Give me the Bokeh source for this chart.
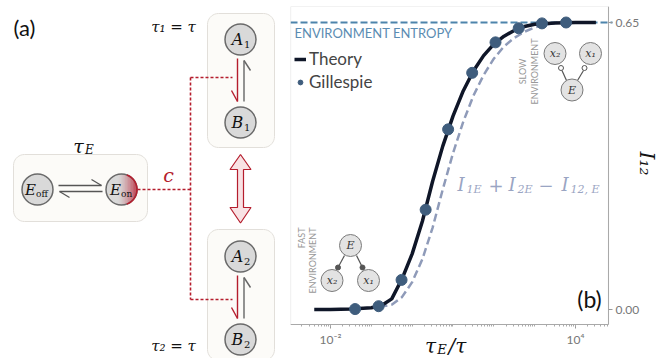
import json
import numpy as np
from bokeh.plotting import figure
from bokeh.models import (Range1d, Legend, LegendItem, FixedTicker, BoxAnnotation,
                          CustomJSTickFormatter, PrintfTickFormatter)
from bokeh.layouts import row
from bokeh.core.properties import value
from bokeh.embed import file_html
from bokeh.resources import INLINE

# ---------------- data ----------------
theory_tau = [0.004, 0.01, 0.0316, 0.1, 0.178, 0.316, 0.562, 1.0, 1.78, 3.16, 5.62, 10,
              17.8, 31.6, 56.2, 100, 178, 316, 562, 1000, 3162, 10000, 31623]
theory_I12 = [0.000, 0.000, 0.001, 0.004, 0.009, 0.024, 0.069, 0.126, 0.200, 0.290, 0.370, 0.438,
              0.495, 0.540, 0.575, 0.601, 0.619, 0.632, 0.641, 0.646, 0.649, 0.650, 0.650]
bound_tau = [0.158, 0.316, 0.562, 1.0, 1.78, 3.16, 5.62, 10, 17.8, 31.6, 56.2, 100, 178,
             316, 562, 1000, 1778, 3162]
bound_I = [0.006, 0.011, 0.028, 0.062, 0.114, 0.185, 0.272, 0.354, 0.425, 0.484, 0.531, 0.568,
           0.596, 0.615, 0.629, 0.639, 0.645, 0.649]
gill_tau = [0.040, 0.151, 0.55, 2.14, 7.6, 29.5, 110, 407, 1510, 5890]
gill_I12 = [0.001, 0.0075, 0.067, 0.226, 0.408, 0.536, 0.605, 0.637, 0.648, 0.650]
env_entropy = 0.65
x_tick_values = [0.01, 10000]
x_tick_labels = ["10\u207b\u00b2", "10\u2074"]
y_tick_values = [0.0, 0.65]

SERIF = value("DejaVu Serif")
SANS = value("Lato")
RED = "#b51d2d"
TOTAL_W, H = 665, 358

# ---------------- left: diagram (a) ----------------
WL = 278
d = figure(frame_width=WL, frame_height=H, x_range=Range1d(0, WL), y_range=Range1d(H, 0),
           x_axis_type=None, y_axis_type=None, toolbar_location=None,
           output_backend="svg", min_border=0, min_border_left=0, min_border_right=0,
           min_border_top=0, min_border_bottom=0)
d.outline_line_color = None
d.background_fill_color = "white"


def rrect(x0, y0, x1, y1, r, n=10):
    xs, ys = [], []
    corners = [(x1 - r, y0 + r, -90, 0), (x1 - r, y1 - r, 0, 90),
               (x0 + r, y1 - r, 90, 180), (x0 + r, y0 + r, 180, 270)]
    for cx, cy, a0, a1 in corners:
        for t in np.linspace(a0, a1, n):
            xs.append(cx + r * np.cos(np.radians(t)))
            ys.append(cy + r * np.sin(np.radians(t)))
    return xs, ys


for b in [(13, 148, 147, 215), (207, 7, 274, 141), (207, 223, 274, 354)]:
    xs, ys = rrect(*b, 11)
    d.patch(xs, ys, fill_color="#fcfbf8", line_color="#e2dfda", line_width=1)

R = 15.5
nodes = {"A": [(240, 33, "1"), (240, 250, "2")], "B": [(240, 116, "1"), (240, 333, "2")]}
circ_x = [240, 240, 240, 240, 37, 121]
circ_y = [33, 116, 250, 333, 183, 183]
d.circle(x=circ_x, y=circ_y, radius=R, fill_color="#d9d9d9", line_color=None)

cx, cy = 121, 183


def mix(c1, c2, t):
    a = [int(c1[i:i + 2], 16) for i in (1, 3, 5)]
    b = [int(c2[i:i + 2], 16) for i in (1, 3, 5)]
    return "#%02x%02x%02x" % tuple(int(round(a[k] + (b[k] - a[k]) * t)) for k in range(3))


n = 26
xs0 = cx - 0.25 * R
for i in range(n):
    xa = xs0 + (cx + R - xs0) * i / n
    xb = xs0 + (cx + R - xs0) * (i + 1) / n
    ha = np.sqrt(max(R * R - (xa - cx) ** 2, 0))
    hb = np.sqrt(max(R * R - (xb - cx) ** 2, 0))
    t = ((i + 0.5) / n) ** 1.4
    d.patch([xa, xb, xb, xa], [cy - ha, cy - hb, cy + hb, cy + ha],
            fill_color=mix("#d9d9d9", "#b8192c", t), line_color=None)

d.circle(x=circ_x, y=circ_y, radius=R, fill_color=None, line_color="#6a6a6a", line_width=1.5)
ang = np.radians(np.linspace(-70, 70, 30))
d.line(cx + R * np.cos(ang), cy + R * np.sin(ang), line_color=RED, line_width=1.6)

for o in (0, 217):
    d.line([237, 237], [52 + o, 95 + o], line_color=RED, line_width=1.4)
    d.line([231, 237], [84 + o, 95 + o], line_color=RED, line_width=1.4)
    d.line([243.5, 243.5], [95 + o, 54 + o], line_color="#666666", line_width=1.4)
    d.line([243.5, 250], [54 + o, 64 + o], line_color="#666666", line_width=1.4)

d.line([58, 101], [179, 179], line_color="#555555", line_width=1.3)
d.line([101, 91], [179, 173], line_color="#555555", line_width=1.3)
d.line([59, 102], [185, 185], line_color="#555555", line_width=1.3)
d.line([59, 69], [185, 191], line_color="#555555", line_width=1.3)

d.multi_line([[137, 190], [190, 190], [190, 232], [190, 232]],
             [[183, 183], [71, 293], [71, 71], [293, 293]],
             line_color=RED, line_dash="3 2", line_width=1.6)

dx = [240, 250.5, 243, 243, 250.5, 240, 229.5, 237, 237, 229.5]
dy = [148, 163, 163, 201, 201, 216.5, 201, 201, 163, 163]
d.patch(dx, dy, fill_color="#f8e2e4", line_color=RED, line_width=1.2)

d.text(x=[24], y=[21], text=["(a)"], text_font=SANS, text_font_size="22px",
       text_align="center", text_baseline="middle", text_color="#111111")
d.text(x=[173, 173], y=[20, 339], text=["\u03c4\u2081 = \u03c4", "\u03c4\u2082 = \u03c4"],
       text_font=SERIF, text_font_style="italic", text_font_size="15px",
       text_align="center", text_baseline="middle", text_color="#111111")
d.text(x=[78], y=[139], text=["\u03c4"], text_font=SERIF, text_font_style="italic",
       text_font_size="19px", text_align="center", text_baseline="middle", text_color="#111111")
d.text(x=[89], y=[143], text=["E"], text_font=SERIF, text_font_style="italic",
       text_font_size="12px", text_align="center", text_baseline="middle", text_color="#111111")
d.text(x=[168], y=[168], text=["c"], text_font=SERIF, text_font_style="italic",
       text_font_size="19px", text_align="center", text_baseline="middle", text_color=RED)

main_x, main_y, main_t, sub_x, sub_y, sub_t = [], [], [], [], [], []
for letter, lst in nodes.items():
    for (x, y, s) in lst:
        main_x.append(x - 3); main_y.append(y); main_t.append(letter)
        sub_x.append(x + 3.5); sub_y.append(y + 4.5); sub_t.append(s)
d.text(x=main_x, y=main_y, text=main_t, text_font=SERIF, text_font_style="italic",
       text_font_size="16px", text_align="center", text_baseline="middle", text_color="#111111")
d.text(x=sub_x, y=sub_y, text=sub_t, text_font=SERIF, text_font_size="10px",
       text_align="left", text_baseline="middle", text_color="#111111")
d.text(x=[30, 115], y=[183, 183], text=["E", "E"], text_font=SERIF, text_font_style="italic",
       text_font_size="15px", text_align="center", text_baseline="middle", text_color="#111111")
d.text(x=[35.5, 120.5], y=[187, 187], text=["off", "on"], text_font=SERIF, text_font_size="9px",
       text_align="left", text_baseline="middle", text_color="#111111")

# ---------------- right: plot (b) ----------------
FL, FR, FT, FB = 290, 608, 6, 324       # plot box (canvas px)


def xv(px):
    return 10 ** (-2 + (px - 330) / 40.83)


def yv(py):
    return 0.65 * (309 - py) / 287


def P(px, py):
    return xv(px), yv(py)


p = figure(frame_width=TOTAL_W - FL, frame_height=H - FT, x_axis_type="log",
           x_range=Range1d(xv(FL), xv(TOTAL_W)), y_range=Range1d(yv(H), yv(FT)),
           y_axis_location="right", toolbar_location=None, output_backend="svg",
           min_border_left=FL - WL, min_border_right=0, min_border_top=FT,
           min_border_bottom=0)
p.grid.visible = False
p.outline_line_color = None
p.background_fill_color = "white"
p.add_layout(BoxAnnotation(left=xv(FL), right=xv(FR), top=yv(FT), bottom=yv(FB),
                           fill_alpha=0, line_color="#aaaaaa", line_width=1.2))

minor = [k * 10.0 ** e for e in range(-3, 5) for k in range(1, 10) if xv(FL) < k * 10.0 ** e < xv(FR)]
p.xaxis.ticker = FixedTicker(ticks=x_tick_values, minor_ticks=minor)
p.xaxis.formatter = CustomJSTickFormatter(code="""
const t = %s; const l = %s;
for (let i = 0; i < t.length; i++) { if (Math.abs(Math.log10(tick) - Math.log10(t[i])) < 1e-6) return l[i]; }
return '';""" % (json.dumps(x_tick_values), json.dumps(x_tick_labels)))
p.xaxis.fixed_location = yv(FB)
p.xaxis.bounds = (xv(FL), xv(FR))
p.yaxis.ticker = FixedTicker(ticks=y_tick_values)
p.yaxis.formatter = PrintfTickFormatter(format="%.2f")
p.yaxis.fixed_location = xv(FR)
p.yaxis.bounds = (yv(FB), yv(FT))
for ax in (p.xaxis, p.yaxis):
    ax.axis_line_color = "#aaaaaa"
    ax.major_tick_line_color = "#999999"
    ax.minor_tick_line_color = "#aaaaaa"
    ax.major_tick_in = 0
    ax.major_tick_out = 4
    ax.minor_tick_in = 0
    ax.minor_tick_out = 2
    ax.major_label_text_font = "Lato"
    ax.major_label_text_font_size = "12px"
    ax.major_label_text_color = "#777777"
p.yaxis.major_label_standoff = 3
p.xaxis.major_label_standoff = 3

# environment entropy reference line (extends to the tick label)
p.segment(x0=[xv(FL)], y0=[env_entropy], x1=[xv(612)], y1=[env_entropy],
          line_color="#4d84ab", line_dash="7 3", line_width=2)

r_bound = p.line(bound_tau, bound_I, line_color="#8f9bb9", line_width=2.5, line_dash="8 4")
r_theory = p.line(theory_tau, theory_I12, line_color="#0f1628", line_width=3.5)
r_gill = p.scatter(gill_tau, gill_I12, size=11, fill_color="#3f5d7d", line_color="#3f5d7d")

legend = Legend(items=[LegendItem(label="Theory", renderers=[r_theory]),
                       LegendItem(label="Gillespie", renderers=[r_gill])],
                location=(4, H - 92), border_line_color=None, background_fill_alpha=0,
                label_text_font="Lato", label_text_font_size="17px", glyph_width=12,
                glyph_height=20, label_height=20, label_standoff=3, spacing=2,
                padding=4, margin=0)
p.add_layout(legend)

ex, ey = P(294, 32)
p.text(x=[ex], y=[ey], text=["ENVIRONMENT ENTROPY"], text_font=SANS, text_font_size="13px",
       text_color="#5b8cb2", text_align="left", text_baseline="middle")

bx, by = P(589, 298)
p.text(x=[bx], y=[by], text=["(b)"], text_font=SANS, text_font_size="23px",
       text_color="#111111", text_align="center", text_baseline="middle")

seg_main = [("I", 457), ("+", 488), ("I", 508), ("\u2212", 538), ("I", 561)]
seg_sub = [("1E", 466), ("2E", 517), ("12, E", 570)]
for t, px in seg_main:
    x, y = P(px, 184)
    p.text(x=[x], y=[y], text=[t], text_font=SERIF,
           text_font_style="italic" if t == "I" else "normal", text_font_size="18px",
           text_color="#9aa5c3", text_align="left", text_baseline="middle")
for t, px in seg_sub:
    x, y = P(px, 189)
    p.text(x=[x], y=[y], text=[t], text_font=SERIF, text_font_style="italic",
           text_font_size="11px", text_color="#9aa5c3", text_align="left",
           text_baseline="middle")

for t, px, py, al in [("FAST", 301, 227, "right"), ("ENVIRONMENT", 312, 227, "right"),
                      ("SLOW", 522, 71, "center"), ("ENVIRONMENT", 534, 71, "center")]:
    x, y = P(px, py)
    p.text(x=[x], y=[y], text=[t], text_font=SANS, text_font_size="9px", text_color="#999999",
           text_align=al, text_baseline="middle", angle=np.pi / 2)


def nodes_at(pts):
    return [P(a, b)[0] for a, b in pts], [P(a, b)[1] for a, b in pts]


fast = [(350, 245), (331.5, 280), (368, 280)]
slow = [(571.5, 89.5), (554.5, 53), (590, 53)]
for grp, dots, segs, filled in [
        (fast, [(337.5, 267), (362, 267)], [((344, 255), (337.5, 267)), ((356, 255), (362, 267))], True),
        (slow, [(560.5, 67.5), (584, 67.5)], [((566, 80), (561.5, 70)), ((577, 80), (583, 70))], False)]:
    for (a, b) in segs:
        x0, y0 = P(*a); x1, y1 = P(*b)
        p.segment(x0=[x0], y0=[y0], x1=[x1], y1=[y1], line_color="#555555", line_width=1.2)
    xs, ys = nodes_at(grp)
    p.scatter(xs, ys, size=22, fill_color="#e3e3e3", line_color="#7a7a7a", line_width=1)
    xs, ys = nodes_at(dots)
    p.scatter(xs, ys, size=5, fill_color="#555555" if filled else "white",
              line_color="#555555", line_width=1)
    xs, ys = nodes_at(grp)
    p.text(x=xs, y=ys, text=["E", "x\u2082", "x\u2081"], text_font=SERIF,
           text_font_style="italic", text_font_size="11px", text_color="#333333",
           text_align="center", text_baseline="middle")

# x axis title (tau_E / tau) and y axis title (I_12)
for t, px, py, size, al in [("\u03c4", 430, 345, "20px", "center"), ("E", 441.5, 349, "13px", "center"),
                            ("/\u03c4", 448, 345, "20px", "left")]:
    x, y = P(px, py)
    p.text(x=[x], y=[y], text=[t], text_font=SERIF, text_font_style="italic",
           text_font_size=size, text_align=al, text_baseline="middle", text_color="#111111")
x, y = P(646, 163)
p.text(x=[x], y=[y], text=["I\u2081\u2082"], text_font=SERIF, text_font_style="italic",
       text_font_size="20px", text_align="center", text_baseline="middle", text_color="#111111",
       angle=-np.pi / 2)

layout = row(d, p)
open("out.html", "w").write(file_html(layout, INLINE))
